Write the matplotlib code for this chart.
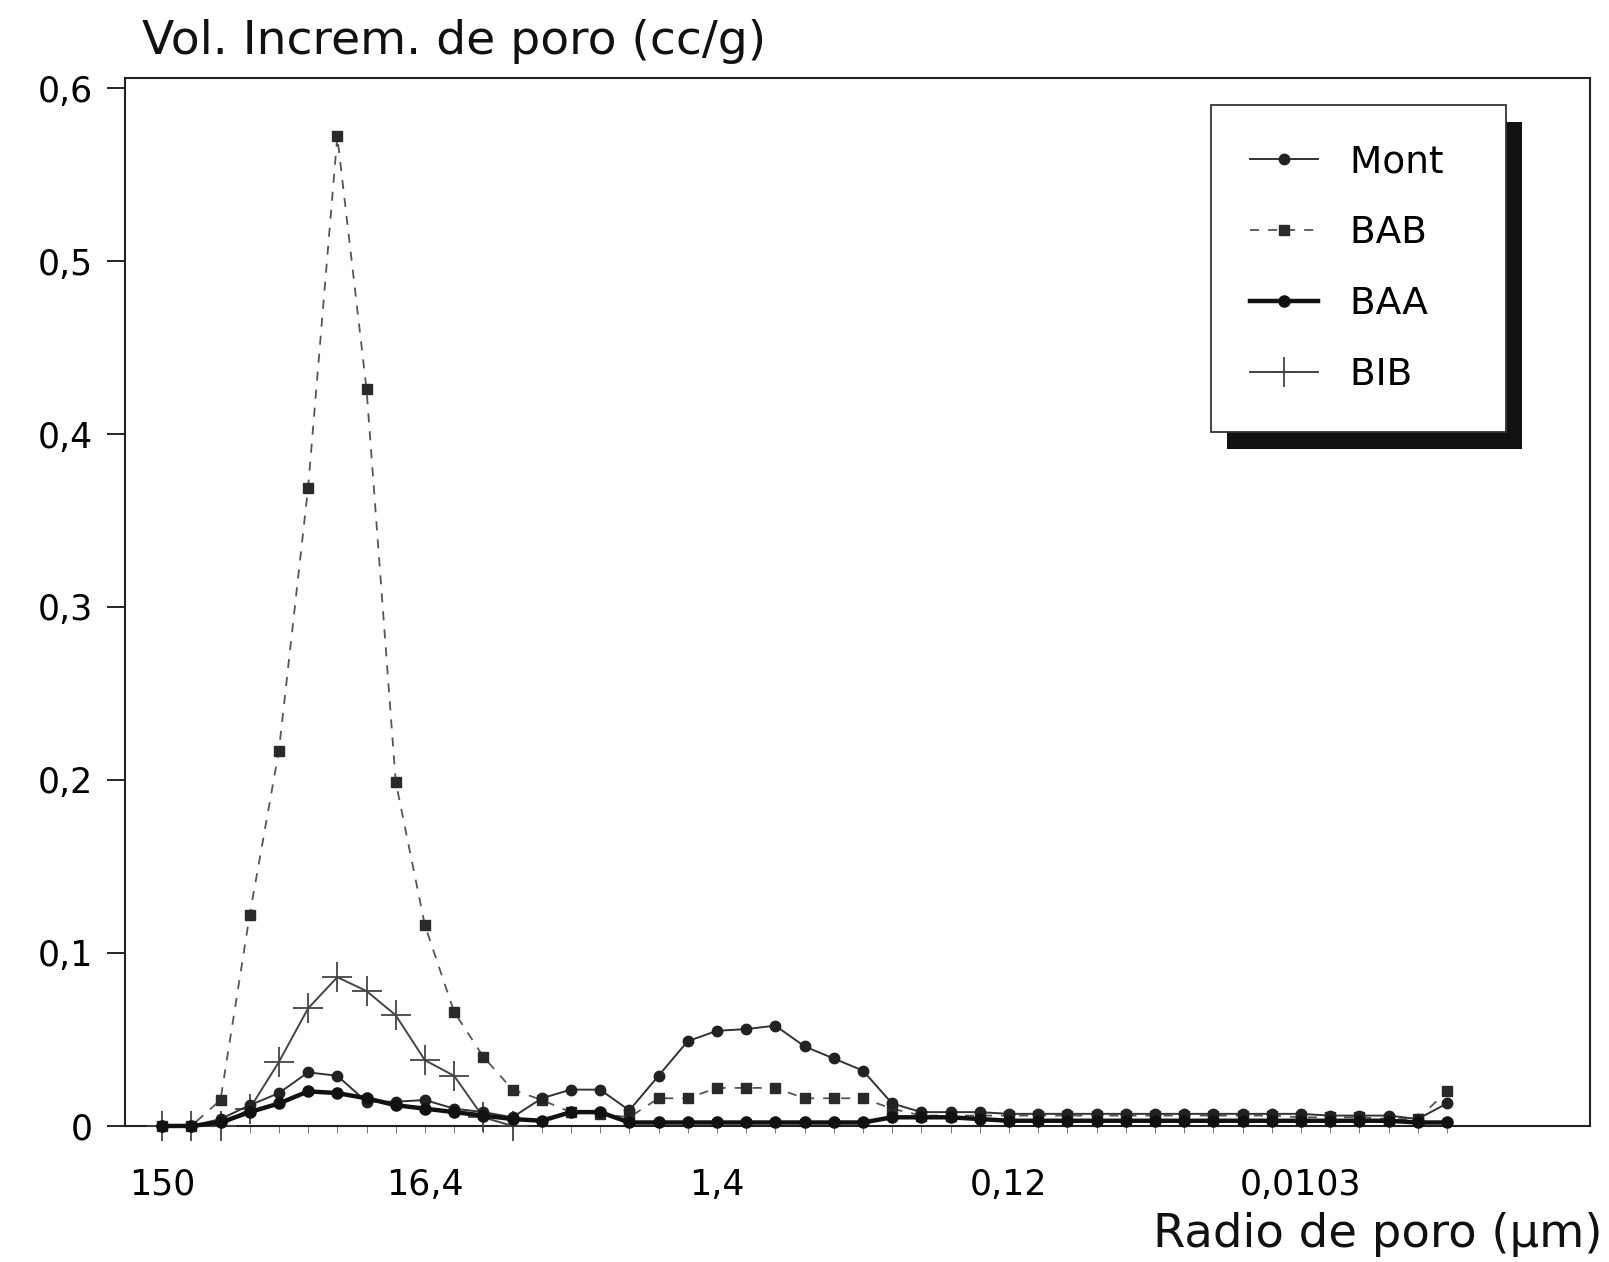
import numpy as np
import matplotlib
matplotlib.use('Agg')
import matplotlib.pyplot as plt
from matplotlib.patches import Rectangle
from matplotlib.ticker import FuncFormatter, MultipleLocator

# radio de poro (um): 45 puntos en escala categorica, solo algunos rotulados
tick_pos = [0, 9, 19, 29, 39]
tick_labels = ['150', '16,4', '1,4', '0,12', '0,0103']

mont = [0.000, 0.000, 0.004, 0.012, 0.019, 0.031, 0.029, 0.014, 0.014, 0.015,
        0.010, 0.008, 0.005, 0.016, 0.021, 0.021, 0.009, 0.029, 0.049, 0.055,
        0.056, 0.058, 0.046, 0.039, 0.032, 0.013, 0.008, 0.008, 0.008, 0.007,
        0.007, 0.007, 0.007, 0.007, 0.007, 0.007, 0.007, 0.007, 0.007, 0.007,
        0.006, 0.006, 0.006, 0.004, 0.013]
bab = [0.000, 0.000, 0.015, 0.122, 0.217, 0.369, 0.572, 0.426, 0.199, 0.116,
       0.066, 0.040, 0.021, 0.015, 0.008, 0.007, 0.005, 0.016, 0.016, 0.022,
       0.022, 0.022, 0.016, 0.016, 0.016, 0.010, 0.006, 0.006, 0.006, 0.006,
       0.006, 0.006, 0.006, 0.006, 0.006, 0.006, 0.006, 0.006, 0.006, 0.005,
       0.005, 0.005, 0.004, 0.004, 0.020]
baa = [0.000, 0.000, 0.002, 0.008, 0.013, 0.020, 0.019, 0.016, 0.012, 0.010,
       0.008, 0.006, 0.004, 0.003, 0.008, 0.008, 0.002, 0.002, 0.002, 0.002,
       0.002, 0.002, 0.002, 0.002, 0.002, 0.005, 0.005, 0.005, 0.004, 0.003,
       0.003, 0.003, 0.003, 0.003, 0.003, 0.003, 0.003, 0.003, 0.003, 0.003,
       0.003, 0.003, 0.003, 0.002, 0.002]
# BIB solo se distingue hasta ~idx 12
bib = [0.000, 0.000, 0.000, 0.010, 0.037, 0.068, 0.086, 0.078, 0.064, 0.038,
       0.029, 0.005, 0.000]

plt.rcParams['font.family'] = ['DejaVu Sans']

fig = plt.figure(figsize=(16.09, 12.62), dpi=100)
ax = fig.add_axes([0.0777, 0.1078, 0.9105, 0.8304])

x = np.arange(len(mont))

ax.plot(x, bab, color='#555555', lw=1.3, ls=(0, (5, 5)), marker='s', ms=7,
        mfc='#2a2a2a', mec='#2a2a2a', label='BAB', clip_on=False, zorder=3)
ax.plot(x[:len(bib)], bib, color='#444444', lw=1.4, marker='+', ms=22,
        mew=1.3, label='BIB', clip_on=False, zorder=3)
ax.plot(x, mont, color='#333333', lw=1.4, marker='o', ms=7.5,
        mfc='#222222', mec='#222222', label='Mont', clip_on=False, zorder=4)
ax.plot(x, baa, color='#111111', lw=3.2, marker='o', ms=8,
        mfc='#111111', mec='#111111', label='BAA', clip_on=False, zorder=4)

ax.set_xlim(-1.27, 48.9)
ax.set_ylim(0, 0.6058)

for s in ax.spines.values():
    s.set_linewidth(1.5)
    s.set_color('#222222')

ax.yaxis.set_major_locator(MultipleLocator(0.1))
ax.yaxis.set_major_formatter(FuncFormatter(
    lambda v, _: '0' if abs(v) < 1e-9 else f'{v:.1f}'.replace('.', ',')))
ax.tick_params(axis='y', direction='out', length=13, width=1.2,
               labelsize=25, pad=10)

ax.set_xticks(tick_pos)
ax.set_xticklabels(tick_labels)
ax.set_xticks(x, minor=True)
ax.tick_params(axis='x', which='both', direction='out', length=5, width=0.7,
               labelsize=25, pad=25, color='#777777')

# leyenda con sombra negra desplazada
handles, labels = ax.get_legend_handles_labels()
order = [labels.index(n) for n in ['Mont', 'BAB', 'BAA', 'BIB']]
leg = ax.legend([handles[i] for i in order],
                [labels[i] + '\u00a0\u00a0' for i in order],
                loc='upper left', bbox_to_anchor=(0.7526, 0.9168),
                bbox_transform=fig.transFigure, fontsize=27,
                fancybox=False, framealpha=1, edgecolor='#333333',
                borderpad=1.05, labelspacing=0.93, handlelength=1.8,
                handletextpad=0.85, borderaxespad=0)
leg.get_frame().set_linewidth(1.3)
leg.set_zorder(6)

fig.canvas.draw()
bb = leg.get_window_extent()
inv = ax.transAxes.inverted()
(x0, y0) = inv.transform((bb.x0 + 16, bb.y0 - 17))
(x1, y1) = inv.transform((bb.x1 + 16, bb.y1 - 17))
ax.add_patch(Rectangle((x0, y0), x1 - x0, y1 - y0, transform=ax.transAxes,
                       facecolor='#111111', edgecolor='none', zorder=5.5,
                       clip_on=False))

fig.text(0.088, 1 - 54 / 1262, 'Vol. Increm. de poro (cc/g)', fontsize=34,
         va='baseline', ha='left', color='#111111')
fig.text(0.996, 1 - 1247 / 1262, 'Radio de poro (µm)', fontsize=33.5,
         va='baseline', ha='right', color='#111111')

fig.savefig('out.png', dpi=100, facecolor='white')
